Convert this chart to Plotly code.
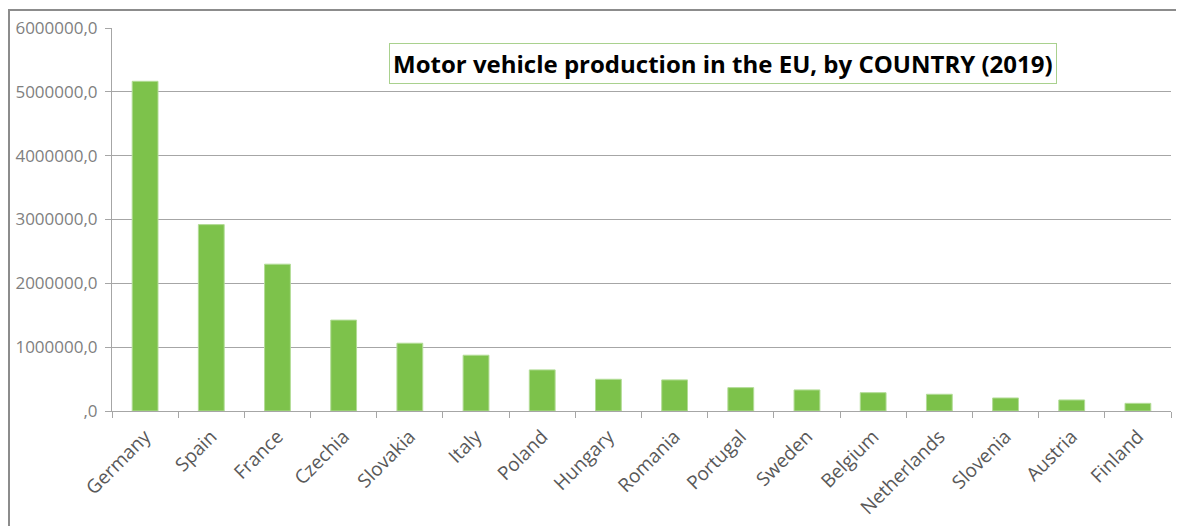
import plotly.graph_objects as go

countries = ["Germany", "Spain", "France", "Czechia", "Slovakia", "Italy", "Poland",
             "Hungary", "Romania", "Portugal", "Sweden", "Belgium", "Netherlands",
             "Slovenia", "Austria", "Finland"]
production = [5165000, 2920000, 2300000, 1424000, 1062000, 874000, 644000,
              497000, 487000, 366000, 330000, 287000, 262000, 204000, 173000, 120000]

y_ticks = [0, 1000000, 2000000, 3000000, 4000000, 5000000, 6000000]
y_tick_labels = [",0", "1000000,0", "2000000,0", "3000000,0", "4000000,0", "5000000,0", "6000000,0"]

title = "Motor vehicle production in the EU, by COUNTRY (2019)"

# the page body has an 8px margin, so the figure is drawn 8px in from the corner
OFF = 8
W, H = 1184 - OFF, 526 - OFF
L, R, T, B = 112 - OFF, 13, 28 - OFF, 115
pw, ph = W - L - R, H - T - B


def px(x):
    return (x - OFF - L) / pw


def py(y):
    return 1 - (y - OFF - T) / ph


fig = go.Figure()
fig.add_trace(go.Bar(x=countries, y=production,
                     marker=dict(color="#7dc24b", line=dict(color="#b3dc97", width=1))))

fig.update_layout(
    width=W, height=H,
    margin=dict(l=L, r=R, t=T, b=B, autoexpand=False),
    plot_bgcolor="white", paper_bgcolor="white",
    font=dict(family="Open Sans", color="#595959"),
    bargap=0.61,
    showlegend=False,
)
fig.update_xaxes(showline=True, linecolor="#a6a6a6", linewidth=1, automargin=False,
                 ticks="outside", tickson="boundaries", ticklen=6, tickcolor="#a6a6a6",
                 ticklabelstandoff=6,
                 tickangle=-45, tickfont=dict(size=19, color="#595959"))
fig.update_yaxes(range=[0, 6000000], tickvals=y_ticks, ticktext=y_tick_labels,
                 showline=True, linecolor="#a6a6a6", linewidth=1, automargin=False,
                 ticks="outside", ticklen=6, tickcolor="#a6a6a6", ticklabelstandoff=4,
                 gridcolor="#a6a6a6", gridwidth=1, zeroline=False,
                 tickfont=dict(size=17, color="#7f7f7f"))

# title box
fig.add_annotation(xref="paper", yref="paper",
                   x=px(723), y=py(63), xanchor="center", yanchor="middle",
                   text="<b>" + title + "</b>", showarrow=False,
                   font=dict(family="Open Sans", size=24, color="black"),
                   bgcolor="white", bordercolor="#a9d18e", borderwidth=1, borderpad=3)

# chart frame
fig.add_shape(type="rect", xref="paper", yref="paper",
              x0=px(9), x1=px(1200), y0=py(540), y1=py(10),
              line=dict(color="#8c8c8c", width=2), layer="below")

fig.write_html("out.html")
